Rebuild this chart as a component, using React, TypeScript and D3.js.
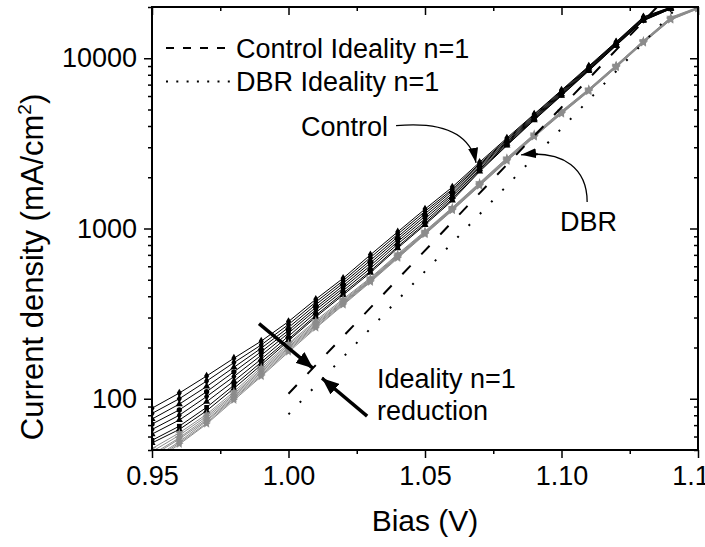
import React, { useEffect, useRef } from 'react';
import * as d3 from 'd3';

// bias points (V)
const bias = [0.95, 0.96, 0.97, 0.98, 0.99, 1.0, 1.01, 1.02, 1.03, 1.04, 1.05,
  1.06, 1.07, 1.08, 1.09, 1.1, 1.11, 1.12, 1.13, 1.14, 1.15];

// Control devices, current density (mA/cm2) from 0.95 V to 1.14 V
const control1 = [88, 108, 136, 173, 218, 284, 384, 510, 700, 955, 1300, 1750, 2450, 3400, 4700, 6500, 9000, 12500, 17500, 19950];
const control2 = [82, 100, 127, 163, 207, 273, 370, 493, 675, 925, 1260, 1700, 2400, 3340, 4650, 6430, 8910, 12400, 17380, 19900];
const control3 = [76, 93, 118, 153, 198, 262, 357, 477, 650, 893, 1220, 1660, 2360, 3300, 4580, 6350, 8830, 12300, 17200, 19800];
const control4 = [71, 86, 110, 144, 189, 252, 344, 461, 628, 865, 1180, 1610, 2320, 3240, 4530, 6280, 8730, 12200, 17100, 19700];
const control5 = [66, 80, 103, 135, 180, 243, 333, 446, 605, 837, 1140, 1570, 2280, 3200, 4470, 6210, 8650, 12100, 16900, 19700];
const control6 = [62, 75, 96, 127, 171, 233, 321, 431, 583, 811, 1100, 1530, 2230, 3150, 4420, 6140, 8570, 12000, 16800, 19600];
const control7 = [57, 69, 89, 120, 164, 224, 309, 417, 562, 783, 1070, 1490, 2190, 3100, 4370, 6070, 8490, 11900, 16700, 19500];
const control8 = [55, 66, 85, 115, 158, 219, 302, 407, 550, 767, 1050, 1460, 2160, 3070, 4330, 6030, 8430, 11860, 16600, 19500];

// DBR devices, current density (mA/cm2) from 0.95 V to 1.15 V
const dbr1 = [51, 63, 81, 110, 153, 211, 288, 385, 513, 708, 966, 1330, 1860, 2600, 3590, 4900, 6610, 9120, 12700, 17400, 19950];
const dbr2 = [49, 61, 79, 107, 149, 207, 282, 378, 507, 700, 957, 1320, 1845, 2580, 3560, 4860, 6560, 9060, 12650, 17260, 19860];
const dbr3 = [47, 59, 77, 105, 146, 202, 277, 372, 501, 692, 948, 1310, 1830, 2550, 3530, 4820, 6520, 9000, 12560, 17140, 19770];
const dbr4 = [46, 58, 75, 103, 143, 199, 272, 368, 497, 685, 942, 1300, 1816, 2535, 3510, 4800, 6490, 8950, 12500, 17060, 19720];
const dbr5 = [44, 56, 74, 101, 140, 195, 269, 364, 493, 681, 935, 1290, 1800, 2520, 3480, 4760, 6460, 8910, 12450, 16980, 19630];
const dbr6 = [43, 55, 72, 100, 137, 192, 264, 359, 489, 675, 929, 1280, 1790, 2500, 3470, 4740, 6410, 8850, 12360, 16870, 19590];
const dbr7 = [42, 54, 71, 98, 135, 188, 260, 355, 484, 668, 923, 1274, 1778, 2483, 3443, 4710, 6383, 8810, 12300, 16790, 19500];

const controlCurves = [control8, control7, control6, control5, control4, control3, control2, control1];
const dbrCurves = [dbr1, dbr2, dbr3, dbr4, dbr5, dbr6, dbr7];

// ideality n=1 guide lines (end points)
const controlIdealBias = [1.0, 1.135];
const controlIdeal = [107, 20000];
const dbrIdealBias = [1.0, 1.1425];
const dbrIdeal = [81, 20000];

const xTicks = [0.95, 1.0, 1.05, 1.1, 1.15];
const xMinor = [0.975, 1.025, 1.075, 1.125];
const yTicks = [100, 1000, 10000];

const FONT = '"Liberation Sans", Arial, sans-serif';

const App: React.FC = () => {
  const svgRef = useRef<SVGSVGElement>(null);

  useEffect(() => {
    if (!svgRef.current) return;
    const width = 705;
    const height = 547;
    const left = 152, right = 698, top = 7, bottom = 450;

    const svg = d3.select(svgRef.current)
      .attr('width', width)
      .attr('height', height)
      .html('');

    const x = d3.scaleLinear().domain([0.95, 1.15]).range([left, right]);
    const y = d3.scaleLog().domain([50, 20000]).range([bottom, top]);

    const yMinor: number[] = [];
    [10, 100, 1000, 10000].forEach(dec => {
      for (let m = 2; m <= 9; m++) {
        const v = dec * m;
        if (v >= 50 && v <= 20000) yMinor.push(v);
      }
    });

    const defs = svg.append('defs');
    defs.append('clipPath').attr('id', 'plot-clip')
      .append('rect')
      .attr('x', left).attr('y', top)
      .attr('width', right - left).attr('height', bottom - top);

    const addHead = (id: string, len: number, w: number) => {
      defs.append('marker')
        .attr('id', id)
        .attr('markerUnits', 'userSpaceOnUse')
        .attr('markerWidth', len)
        .attr('markerHeight', w)
        .attr('refX', len)
        .attr('refY', w / 2)
        .attr('orient', 'auto')
        .append('path')
        .attr('d', `M0,0L${len},${w / 2}L0,${w}Z`)
        .attr('fill', '#000');
    };
    addHead('head-thin', 15, 10);
    addHead('head-thick', 17, 14);

    const plot = svg.append('g').attr('clip-path', 'url(#plot-clip)');

    const line = d3.line<number>()
      .x((_, i) => x(bias[i]))
      .y(d => y(d));

    const blackSymbols = [d3.symbolTriangle, d3.symbolSquare, d3.symbolTriangle, d3.symbolDiamond,
      d3.symbolCircle, d3.symbolTriangle, d3.symbolDiamond, d3.symbolDiamond];

    controlCurves.forEach((c, k) => {
      plot.append('path')
        .datum(c)
        .attr('d', line)
        .attr('fill', 'none')
        .attr('stroke', '#000')
        .attr('stroke-width', 1);
      plot.selectAll(null)
        .data(c)
        .enter()
        .append('path')
        .attr('d', d3.symbol().type(blackSymbols[k]).size(22)())
        .attr('transform', (d, i) => `translate(${x(bias[i])},${y(d)})`)
        .attr('fill', '#000');
    });

    dbrCurves.forEach(c => {
      plot.append('path')
        .datum(c)
        .attr('d', line)
        .attr('fill', 'none')
        .attr('stroke', '#8c8c8c')
        .attr('stroke-width', 1);
      plot.selectAll(null)
        .data(c)
        .enter()
        .append('path')
        .attr('d', d3.symbol().type(d3.symbolStar).size(24)())
        .attr('transform', (d, i) => `translate(${x(bias[i])},${y(d)})`)
        .attr('fill', '#8c8c8c');
    });

    // ideality guide lines
    plot.append('line')
      .attr('x1', x(controlIdealBias[0])).attr('y1', y(controlIdeal[0]))
      .attr('x2', x(controlIdealBias[1])).attr('y2', y(controlIdeal[1]))
      .attr('stroke', '#000').attr('stroke-width', 2)
      .attr('stroke-dasharray', '12,15.5');
    plot.append('line')
      .attr('x1', x(dbrIdealBias[0])).attr('y1', y(dbrIdeal[0]))
      .attr('x2', x(dbrIdealBias[1])).attr('y2', y(dbrIdeal[1]))
      .attr('stroke', '#000').attr('stroke-width', 2)
      .attr('stroke-dasharray', '2,14.3');

    // axes
    const styleAxis = (g: d3.Selection<SVGGElement, unknown, null, undefined>) => {
      g.select('.domain').remove();
      g.selectAll('line').attr('stroke', '#000').attr('stroke-width', 1.5);
      g.selectAll('text')
        .attr('fill', '#000')
        .style('font-family', FONT)
        .style('font-size', '27px');
    };

    svg.append('g')
      .attr('transform', `translate(0,${bottom})`)
      .call(d3.axisBottom(x).tickValues(xTicks).tickFormat(d3.format('.2f')).tickSize(8).tickPadding(8))
      .call(styleAxis);
    svg.append('g')
      .attr('transform', `translate(0,${bottom})`)
      .call(d3.axisBottom(x).tickValues(xMinor).tickFormat(() => '').tickSize(4))
      .call(styleAxis);
    svg.append('g')
      .attr('transform', `translate(0,${top})`)
      .call(d3.axisTop(x).tickValues(xTicks).tickFormat(() => '').tickSize(-8))
      .call(styleAxis);
    svg.append('g')
      .attr('transform', `translate(0,${top})`)
      .call(d3.axisTop(x).tickValues(xMinor).tickFormat(() => '').tickSize(-4))
      .call(styleAxis);

    svg.append('g')
      .attr('transform', `translate(${left},0)`)
      .call(d3.axisLeft(y).tickValues(yTicks).tickFormat(d3.format('d')).tickSize(8).tickPadding(7))
      .call(styleAxis);
    svg.append('g')
      .attr('transform', `translate(${left},0)`)
      .call(d3.axisLeft(y).tickValues(yMinor).tickFormat(() => '').tickSize(4))
      .call(styleAxis);
    svg.append('g')
      .attr('transform', `translate(${right},0)`)
      .call(d3.axisRight(y).tickValues(yTicks).tickFormat(() => '').tickSize(-8))
      .call(styleAxis);
    svg.append('g')
      .attr('transform', `translate(${right},0)`)
      .call(d3.axisRight(y).tickValues(yMinor).tickFormat(() => '').tickSize(-4))
      .call(styleAxis);

    svg.append('rect')
      .attr('x', left).attr('y', top)
      .attr('width', right - left).attr('height', bottom - top)
      .attr('fill', 'none')
      .attr('stroke', '#000')
      .attr('stroke-width', 2);

    // axis titles
    svg.append('text')
      .attr('x', (left + right) / 2)
      .attr('y', 531)
      .attr('text-anchor', 'middle')
      .style('font-family', FONT)
      .style('font-size', '30px')
      .text('Bias (V)');

    const yt = svg.append('text')
      .attr('transform', `translate(43,267) rotate(-90)`)
      .attr('text-anchor', 'middle')
      .style('font-family', FONT)
      .style('font-size', '31px');
    yt.append('tspan').text('Current density (mA/cm');
    yt.append('tspan').attr('dy', -12).style('font-size', '19px').text('2');
    yt.append('tspan').attr('dy', 12).text(')');

    // legend
    const legend = svg.append('g').style('font-family', FONT).style('font-size', '27px');
    legend.append('line')
      .attr('x1', 166).attr('x2', 230).attr('y1', 48).attr('y2', 48)
      .attr('stroke', '#000').attr('stroke-width', 2).attr('stroke-dasharray', '8,9');
    legend.append('text').attr('x', 236).attr('y', 57.5).text('Control Ideality n=1');
    legend.append('line')
      .attr('x1', 166).attr('x2', 230).attr('y1', 81.5).attr('y2', 81.5)
      .attr('stroke', '#000').attr('stroke-width', 2).attr('stroke-dasharray', '2,8.3');
    legend.append('text').attr('x', 236).attr('y', 91).text('DBR Ideality n=1');

    // annotations
    const ann = svg.append('g').style('font-family', FONT).style('font-size', '27px');
    ann.append('text').attr('x', 301).attr('y', 135.5).text('Control');
    ann.append('text').attr('x', 560).attr('y', 231).text('DBR');
    ann.append('text').attr('x', 377).attr('y', 387.5).text('Ideality n=1');
    ann.append('text').attr('x', 377).attr('y', 420).text('reduction');

    const cTip: [number, number] = [x(1.0687), y(2430)];
    const cStart: [number, number] = [x(1.0394), y(4020)];
    ann.append('path')
      .attr('d', `M${cStart[0]},${cStart[1]}C${cStart[0] + 45},${cStart[1] - 4} ${cTip[0] - 6},${cTip[1] - 30} ${cTip[0]},${cTip[1]}`)
      .attr('fill', 'none').attr('stroke', '#000').attr('stroke-width', 1.3)
      .attr('marker-end', 'url(#head-thin)');

    const dTip: [number, number] = [x(1.0852), y(2710)];
    const dStart: [number, number] = [x(1.1094), y(1432)];
    ann.append('path')
      .attr('d', `M${dStart[0]},${dStart[1]}C${dStart[0]},${dStart[1] - 32} ${dStart[0] - 22},${dTip[1] - 5} ${dTip[0]},${dTip[1]}`)
      .attr('fill', 'none').attr('stroke', '#000').attr('stroke-width', 1.3)
      .attr('marker-end', 'url(#head-thin)');

    ann.append('line')
      .attr('x1', x(0.9892)).attr('y1', y(276))
      .attr('x2', x(1.009)).attr('y2', y(151))
      .attr('stroke', '#000').attr('stroke-width', 3.5)
      .attr('marker-end', 'url(#head-thick)');
    ann.append('line')
      .attr('x1', x(1.0288)).attr('y1', y(79))
      .attr('x2', x(1.0123)).attr('y2', y(132))
      .attr('stroke', '#000').attr('stroke-width', 3.5)
      .attr('marker-end', 'url(#head-thick)');
  }, []);

  return (
    <svg ref={svgRef} style={{ position: 'absolute', left: 0, top: 0, background: '#fff' }}></svg>
  );
};

export default App;
